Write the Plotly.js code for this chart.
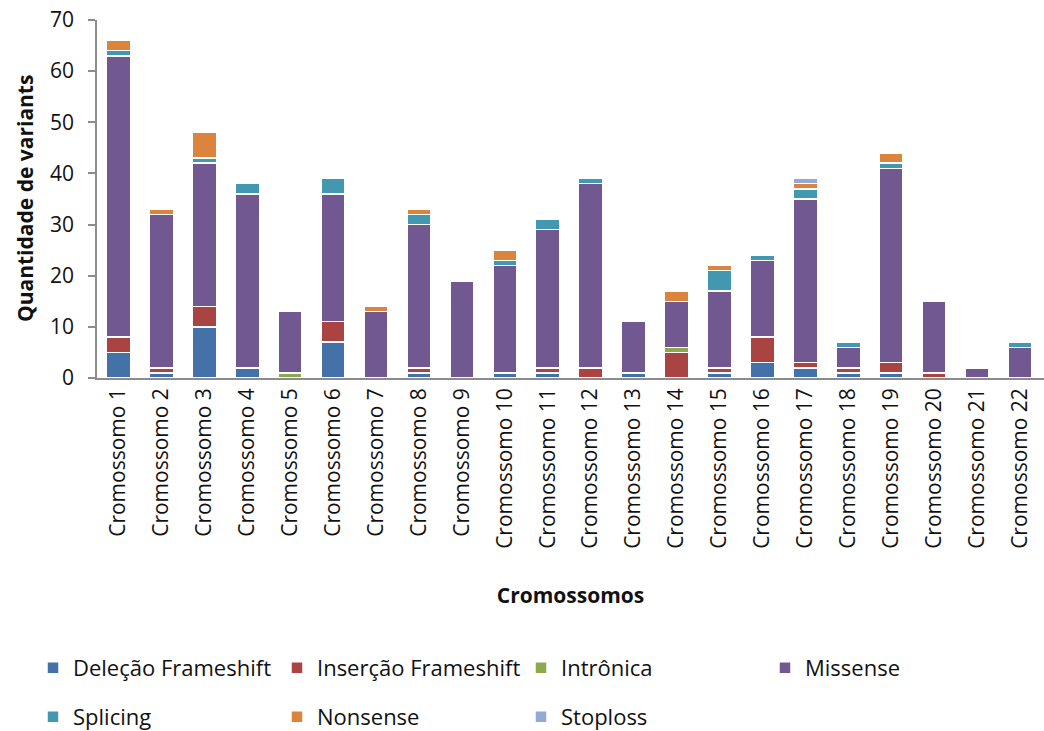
<!DOCTYPE html>
<html>
<head>
<meta charset="utf-8">
<script src="https://cdn.plot.ly/plotly-3.0.1.min.js"></script>
<style>html,body{margin:0;padding:0;background:#fff;}#chart{width:1044px;height:731px;}</style>
</head>
<body>
<div id="chart"></div>
<script>
const categories = ["Cromossomo 1","Cromossomo 2","Cromossomo 3","Cromossomo 4","Cromossomo 5","Cromossomo 6","Cromossomo 7","Cromossomo 8","Cromossomo 9","Cromossomo 10","Cromossomo 11","Cromossomo 12","Cromossomo 13","Cromossomo 14","Cromossomo 15","Cromossomo 16","Cromossomo 17","Cromossomo 18","Cromossomo 19","Cromossomo 20","Cromossomo 21","Cromossomo 22"];
const delecaoFrameshift  = [5,1,10,2,0,7,0,1,0,1,1,0,1,0,1,3,2,1,1,0,0,0];
const insercaoFrameshift = [3,1,4,0,0,4,0,1,0,0,1,2,0,5,1,5,1,1,2,1,0,0];
const intronica          = [0,0,0,0,1,0,0,0,0,0,0,0,0,1,0,0,0,0,0,0,0,0];
const missense           = [55,30,28,34,12,25,13,28,19,21,27,36,10,9,15,15,32,4,38,14,2,6];
const splicing           = [1,0,1,2,0,3,0,2,0,1,2,1,0,0,4,1,2,1,1,0,0,1];
const nonsense           = [2,1,5,0,0,0,1,1,0,2,0,0,0,2,1,0,1,0,2,0,0,0];
const stoploss           = [0,0,0,0,0,0,0,0,0,0,0,0,0,0,0,0,1,0,0,0,0,0];
const seriesNames = ["Deleção Frameshift","Inserção Frameshift","Intrônica","Missense","Splicing","Nonsense","Stoploss"];
const seriesValues = [delecaoFrameshift, insercaoFrameshift, intronica, missense, splicing, nonsense, stoploss];
const seriesColors = ["#4472A8","#A94442","#8DA94E","#715891","#4198B0","#DB843D","#94A9D6"];
const yTitle = "Quantidade de variants";
const xTitle = "Cromossomos";

const FONT = "'Open Sans', sans-serif";
const TXT = "#111111";
const legendIds = ["legend","legend2","legend3","legend4","legend5","legend6","legend7"];
const traces = seriesNames.map((name, i) => ({
  type: "bar",
  name: name,
  x: categories,
  y: seriesValues[i],
  marker: {color: seriesColors[i], line: {color: "#ffffff", width: 1.5}},
  legend: legendIds[i],
  hoverinfo: "x+y+name"
}));

// legend grid: 4 columns x 2 rows (pixel positions in the 1044x731 page)
const legendColX = [33, 277, 521, 765, 33, 277, 521];
const legendRowY = [668, 668, 668, 668, 717, 717, 717];

const layout = {
  width: 1044, height: 731,
  margin: {l: 97, r: 0, t: 20, b: 353, autoexpand: false},
  paper_bgcolor: "#ffffff", plot_bgcolor: "#ffffff",
  barmode: "stack",
  bargap: 0.44,
  font: {family: FONT, size: 21, color: TXT},
  xaxis: {
    type: "category",
    range: [-0.5, 21.56],
    tickangle: -90,
    showline: true, linecolor: "#8c8c8c", linewidth: 1.5,
    ticks: "", showgrid: false, zeroline: false,
    tickfont: {family: FONT, size: 21, color: TXT},
    title: {text: "<b>" + xTitle + "</b>", font: {family: FONT, size: 21, color: TXT}, standoff: 40}
  },
  yaxis: {
    range: [0, 70], dtick: 10, tick0: 0,
    showline: true, linecolor: "#8c8c8c", linewidth: 1.5,
    ticks: "outside", ticklen: 7, tickcolor: "#8c8c8c", tickwidth: 1.5,
    ticklabelstandoff: 10,
    showgrid: false, zeroline: false,
    tickfont: {family: FONT, size: 21, color: TXT}
  },
  annotations: [{
    text: "<b>" + yTitle + "</b>",
    xref: "paper", yref: "paper",
    x: (25 - 97) / 947, y: 0.5,
    xanchor: "center", yanchor: "middle",
    textangle: -90, showarrow: false,
    font: {family: FONT, size: 21, color: TXT}
  }],
  showlegend: true
};
legendIds.forEach((id, i) => {
  layout[id] = {
    orientation: "v",
    xref: "container", yref: "container",
    xanchor: "left", yanchor: "middle",
    x: legendColX[i] / 1044, y: 1 - legendRowY[i] / 731,
    font: {family: FONT, size: 22, color: TXT},
    bgcolor: "rgba(0,0,0,0)"
  };
});

Plotly.newPlot("chart", traces, layout, {displayModeBar: false});
</script>
</body>
</html>
